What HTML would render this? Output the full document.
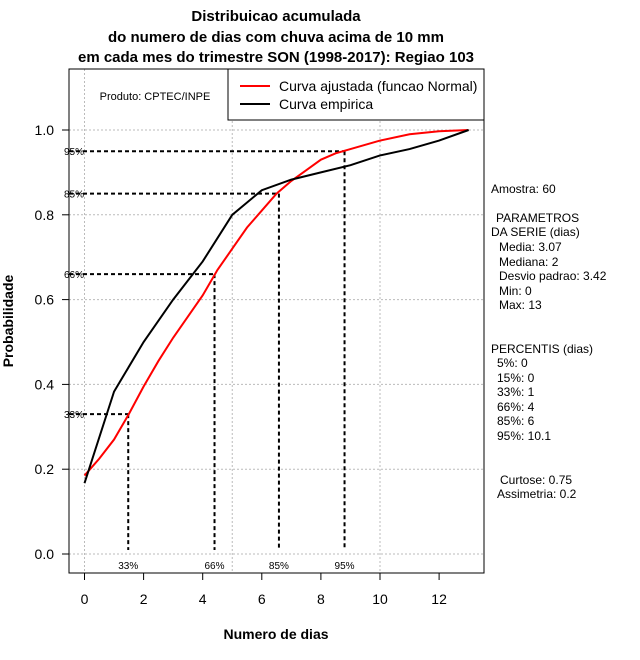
<!DOCTYPE html>
<html><head><meta charset="utf-8"><style>
body{margin:0;background:#fff;}
svg{display:block;font-family:"Liberation Sans",sans-serif;}
</style></head><body>
<svg id="chart" width="640" height="660" xmlns="http://www.w3.org/2000/svg">
<g font-weight="bold" font-size="15" text-anchor="middle">
<text x="276" y="21">Distribuicao acumulada</text>
<text x="276" y="42">do numero de dias com chuva acima de 10 mm</text>
<text x="276" y="62">em cada mes do trimestre SON (1998-2017): Regiao 103</text>
</g>
<g id="grid"></g>
<g id="refs"></g>
<g id="series"></g>
<rect x="69" y="69" width="415" height="504" fill="none" stroke="#000"/>
<g id="axes"></g>
<text x="155" y="100" font-size="11" text-anchor="middle">Produto: CPTEC/INPE</text>
<g>
<rect x="228" y="69" width="256" height="51" fill="#fff" stroke="#000"/>
<g><line x1="240" y1="86" x2="270" y2="86" stroke="#f00" stroke-width="2"/><text x="279" y="91" font-size="14">Curva ajustada (funcao Normal)</text></g>
<g><line x1="240" y1="104" x2="270" y2="104" stroke="#000" stroke-width="2"/><text x="279" y="109" font-size="14">Curva empirica</text></g>
</g>
<text x="276" y="639" font-size="14" font-weight="bold" text-anchor="middle">Numero de dias</text>
<text transform="translate(13,321) rotate(-90)" font-size="14" font-weight="bold" text-anchor="middle">Probabilidade</text>
<g font-size="12">
<text x="491" y="193">Amostra: 60</text>
<text x="496" y="222">PARAMETROS</text>
<text x="491" y="236">DA SERIE (dias)</text>
<text x="499" y="251">Media: 3.07</text>
<text x="499" y="266">Mediana: 2</text>
<text x="499" y="280">Desvio padrao: 3.42</text>
<text x="499" y="295">Min: 0</text>
<text x="499" y="309">Max: 13</text>
<text x="491" y="353">PERCENTIS (dias)</text>
<text x="497" y="367">5%: 0</text>
<text x="497" y="382">15%: 0</text>
<text x="497" y="396">33%: 1</text>
<text x="497" y="411">66%: 4</text>
<text x="497" y="425">85%: 6</text>
<text x="497" y="440">95%: 10.1</text>
<text x="500" y="484">Curtose: 0.75</text>
<text x="497" y="498">Assimetria: 0.2</text>
</g>
</svg>
<script>
const empX=[0,1,2,3,4,5,6,7,8,9,10,11,12,13];
const empY=[0.167,0.383,0.5,0.6,0.69,0.8,0.858,0.883,0.9,0.917,0.94,0.955,0.975,1.0];
const fitX=[0,0.5,1,1.5,2,2.5,3,3.5,4,4.5,5,5.5,6,6.5,7,7.5,8,8.5,9,10,11,12,13];
const fitY=[0.185,0.225,0.27,0.33,0.395,0.455,0.51,0.56,0.61,0.67,0.72,0.77,0.81,0.85,0.88,0.905,0.93,0.945,0.955,0.975,0.99,0.997,1.0];
const pctLabels=["33%","66%","85%","95%"];
const pctProb=[0.33,0.66,0.85,0.95];
const pctX=[1.48,4.4,6.58,8.8];
const xTicks=[0,2,4,6,8,10,12];
const yTicks=[0,0.2,0.4,0.6,0.8,1.0];
const xGrid=[0,5,10];
const NS="http://www.w3.org/2000/svg";
const sx=v=>84.5+v*29.55;
const sy=v=>554-v*424;
function mk(parent,tag,attrs,txt){const e=document.createElementNS(NS,tag);for(const k in attrs)e.setAttribute(k,attrs[k]);if(txt!==undefined)e.textContent=txt;document.getElementById(parent).appendChild(e);return e;}
yTicks.forEach(v=>{const l=mk('grid','line',{x1:69,x2:484,y1:sy(v),y2:sy(v),stroke:'#bbb','stroke-dasharray':'2,2'});

});
xGrid.forEach(v=>{const l=mk('grid','line',{x1:sx(v),x2:sx(v),y1:69,y2:573,stroke:'#bbb','stroke-dasharray':'2,2'});

});
pctProb.forEach((p,i)=>{
const h=mk('refs','line',{x1:69,x2:sx(pctX[i]),y1:sy(p),y2:sy(p),stroke:'#000','stroke-width':2,'stroke-dasharray':'4,3'});


const v=mk('refs','line',{x1:sx(pctX[i]),x2:sx(pctX[i]),y1:sy(p),y2:550,stroke:'#000','stroke-width':2,'stroke-dasharray':'4,3'});


const t1=mk('refs','text',{x:64,y:sy(p)+4,'font-size':10},pctLabels[i]);


const t2=mk('refs','text',{x:sx(pctX[i]),y:569,'font-size':10,'text-anchor':'middle'},pctLabels[i]);


});
const fit=mk('series','polyline',{points:fitX.map((x,i)=>sx(x)+','+sy(fitY[i])).join(' '),fill:'none',stroke:'#f00','stroke-width':2});


const emp=mk('series','polyline',{points:empX.map((x,i)=>sx(x)+','+sy(empY[i])).join(' '),fill:'none',stroke:'#000','stroke-width':2});


xTicks.forEach(v=>{mk('axes','line',{x1:sx(v),x2:sx(v),y1:573,y2:580,stroke:'#000'});
const t=mk('axes','text',{x:sx(v),y:604,'font-size':14,'text-anchor':'middle'},String(v));

});
yTicks.forEach(v=>{mk('axes','line',{x1:62,x2:69,y1:sy(v),y2:sy(v),stroke:'#000'});
const t=mk('axes','text',{x:54,y:sy(v)+5,'font-size':14,'text-anchor':'end'},v.toFixed(1));

});
</script>
</body></html>
